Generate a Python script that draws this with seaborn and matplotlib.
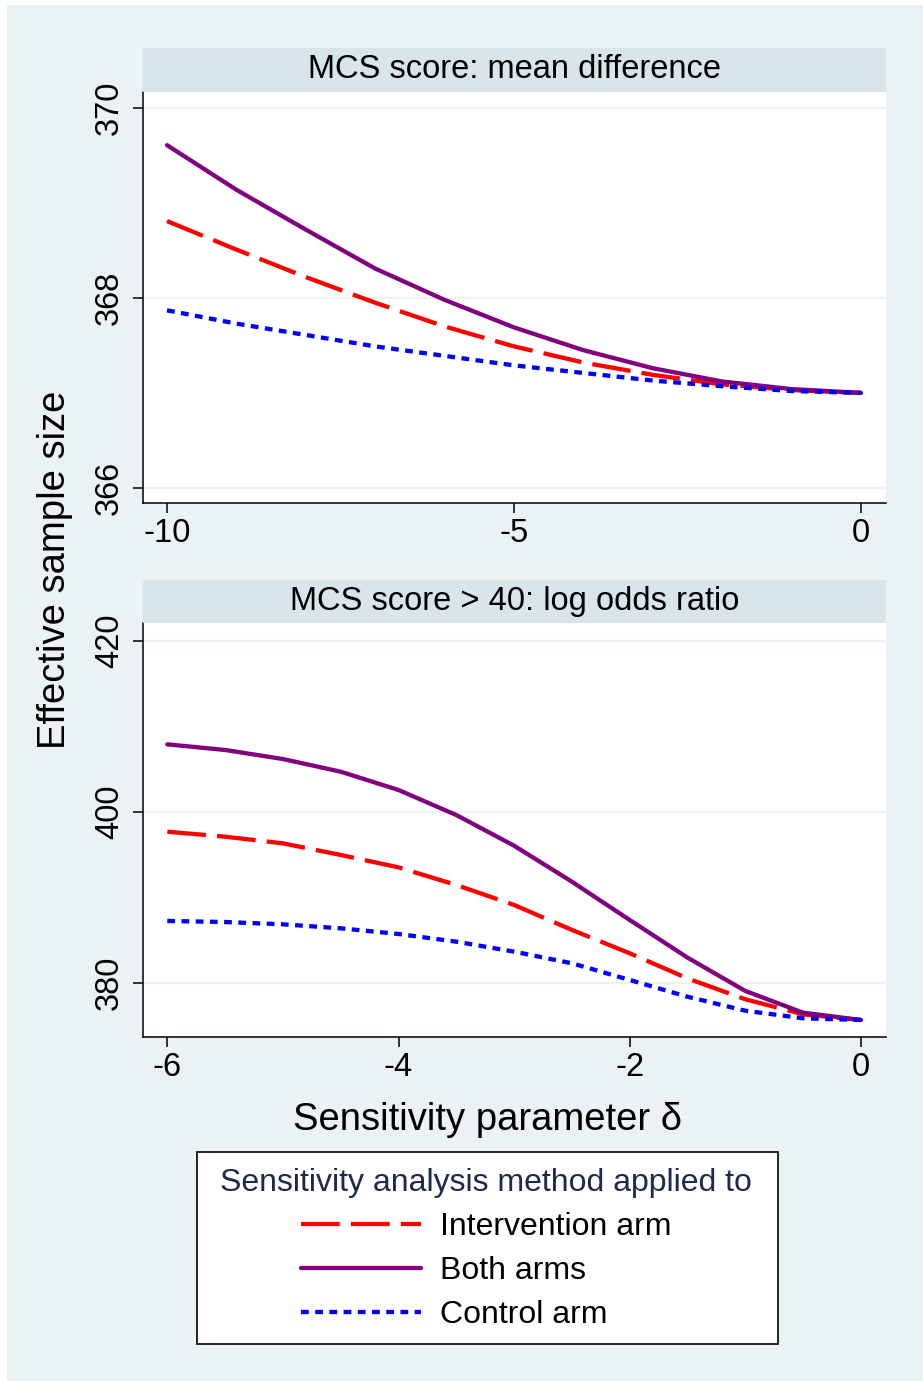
import numpy as np
import pandas as pd
import seaborn as sns
import matplotlib.pyplot as plt
from matplotlib.patches import Rectangle
from matplotlib.lines import Line2D

# Panel 1: MCS score, mean difference
delta_mean = [-10, -9, -8, -7, -6, -5, -4, -3, -2, -1, 0]
mean_intervention = [368.81, 368.51, 368.22, 367.95, 367.70, 367.49, 367.32, 367.19, 367.09, 367.03, 367.00]
mean_both = [369.61, 369.14, 368.72, 368.31, 367.98, 367.69, 367.45, 367.26, 367.12, 367.04, 367.00]
mean_control = [367.87, 367.73, 367.61, 367.49, 367.39, 367.29, 367.21, 367.13, 367.07, 367.02, 367.00]

# Panel 2: MCS score > 40, log odds ratio
delta_lor = [-6, -5.5, -5, -4.5, -4, -3.5, -3, -2.5, -2, -1.5, -1, -0.5, 0]
lor_intervention = [397.66, 397.08, 396.30, 394.94, 393.49, 391.43, 389.09, 386.17, 383.44, 380.50, 378.06, 376.30, 375.64]
lor_both = [407.88, 407.22, 406.16, 404.68, 402.54, 399.61, 396.02, 391.81, 387.33, 382.93, 379.03, 376.49, 375.64]
lor_control = [387.22, 387.10, 386.83, 386.36, 385.70, 384.80, 383.63, 382.27, 380.32, 378.36, 376.72, 375.84, 375.64]

series_names = ["Intervention arm", "Both arms", "Control arm"]
series_colors = ["#FF0000", "#800080", "#0000FF"]
series_styles = [(0, (9, 2.6)), "-", (0, (1.8, 1.5))]

sns.set_style("white")
plt.rcParams["font.family"] = ["Liberation Sans", "DejaVu Sans"]
plt.rcParams["text.color"] = "black"
plt.rcParams["xtick.color"] = "black"
plt.rcParams["ytick.color"] = "black"

W, H = 923, 1381
BG = "#EAF2F3"
STRIP = "#D8E5EA"
LW = 3.1

fig = plt.figure(figsize=(W / 100, H / 100), dpi=100, facecolor="white")
fig.patches.append(Rectangle((7 / W, 0), 1, 1 - 5 / H, transform=fig.transFigure,
                             facecolor=BG, edgecolor="none", zorder=-10))


def px_box(left, top, right, bottom):
    return [left / W, 1 - bottom / H, (right - left) / W, (bottom - top) / H]


def draw_panel(rect, strip_top, title, x, ys, xlim, ylim, xticks, yticks):
    ax = fig.add_axes(px_box(*rect))
    for y, name, col, ls in zip(ys, series_names, series_colors, series_styles):
        sns.lineplot(x=x, y=y, ax=ax, color=col, linestyle=ls, lw=LW, label=name)
    ax.set_xlim(xlim)
    ax.set_ylim(ylim)
    ax.set_xticks(xticks)
    ax.set_yticks(yticks)
    ax.set_xticklabels([str(t) for t in xticks])
    ax.set_yticklabels([str(t) for t in yticks], rotation=90, va="center")
    ax.grid(axis="y", color=BG, lw=1.6)
    ax.set_axisbelow(True)
    for s in ["top", "right"]:
        ax.spines[s].set_visible(False)
    for s in ["left", "bottom"]:
        ax.spines[s].set_color("black")
        ax.spines[s].set_linewidth(1.1)
    ax.tick_params(axis="both", length=7, width=1.1, color="black", labelcolor="black",
                   labelsize=23.5, direction="out", left=True, bottom=True)
    ax.tick_params(axis="x", pad=4)
    ax.tick_params(axis="y", pad=6)
    ax.set_xlabel("")
    ax.set_ylabel("")
    ax.get_legend().remove()
    # title strip
    left, top, right, bottom = rect
    fig.patches.append(Rectangle((left / W, 1 - top / H), (right - left) / W, (top - strip_top) / H,
                                 transform=fig.transFigure, facecolor=STRIP, edgecolor="none"))
    fig.text((left + right) / 2 / W, 1 - (strip_top + top) / 2 / H, title,
             ha="center", va="center", fontsize=23.5, color="black")
    return ax


ax1 = draw_panel((143, 92, 886, 503), 48, "MCS score: mean difference",
                 delta_mean, [mean_intervention, mean_both, mean_control],
                 (-10.346, 0.36), (365.84, 370.17), [-10, -5, 0], [366, 368, 370])
ax2 = draw_panel((143, 623, 886, 1037), 580, "MCS score > 40: log odds ratio",
                 delta_lor, [lor_intervention, lor_both, lor_control],
                 (-6.21, 0.216), (373.65, 422.07), [-6, -4, -2, 0], [380, 400, 420])

fig.text(55 / W, 1 - 570 / H, "Effective sample size", rotation=90,
         ha="center", va="center", fontsize=27.5, color="black")
fig.text(487.5 / W, 1 - 1120 / H, "Sensitivity parameter δ",
         ha="center", va="center", fontsize=27.5, color="black")

# legend box
fig.patches.append(Rectangle((197 / W, 1 - 1344 / H), (778 - 197) / W, (1344 - 1152) / H,
                             transform=fig.transFigure, facecolor="white",
                             edgecolor="black", lw=1.2, zorder=1))
handles = [Line2D([], [], color=c, linestyle=ls, lw=LW)
           for c, ls in zip(series_colors, series_styles)]
leg = fig.legend(handles, series_names, loc="center",
                 bbox_to_anchor=(486 / W, 1 - 1249 / H), frameon=False,
                 fontsize=23, title="Sensitivity analysis method applied to",
                 title_fontsize=23, handlelength=3.75, handletextpad=0.6,
                 labelspacing=0.44, borderpad=0.2, labelcolor="black")
leg.get_title().set_color("#1C2A4E")
leg.set_zorder(5)

fig.savefig("out.png", dpi=100, facecolor=fig.get_facecolor())
